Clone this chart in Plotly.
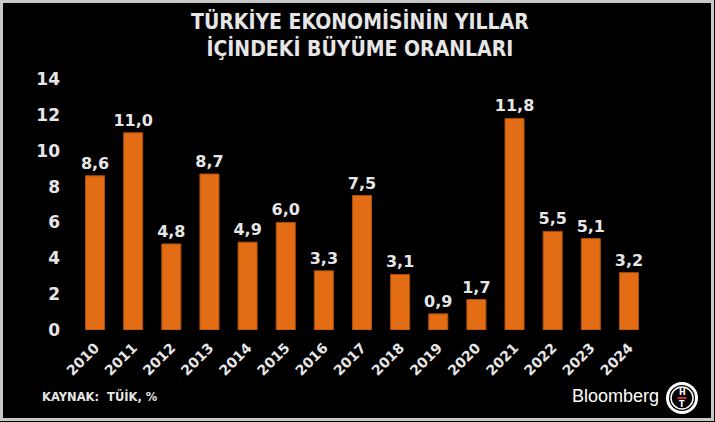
import plotly.graph_objects as go

years = ["2010", "2011", "2012", "2013", "2014", "2015", "2016", "2017",
         "2018", "2019", "2020", "2021", "2022", "2023", "2024"]
growth = [8.6, 11.0, 4.8, 8.7, 4.9, 6.0, 3.3, 7.5, 3.1, 0.9, 1.7, 11.8, 5.5, 5.1, 3.2]
y_ticks = [0, 2, 4, 6, 8, 10, 12, 14]

title_lines = ["TÜRKİYE EKONOMİSİNİN YILLAR", "İÇİNDEKİ BÜYÜME ORANLARI"]
source_text = "KAYNAK:  TÜİK, %"
brand_text = "Bloomberg"

W, H = 715, 422
ML, MR, MT, MB = 76, 67, 79, 92
PW, PH = W - ML - MR, H - MT - MB


def px(x):
    return (x - ML) / PW


def py(y):
    return (H - MB - y) / PH


TXT = "#E6E6E6"
fig = go.Figure()
fig.add_trace(go.Bar(
    x=years, y=growth,
    marker=dict(color="#E36D14", line=dict(color="#A94F0C", width=1)),
    texttemplate="%{y:.1f}", textposition="outside", cliponaxis=False,
    constraintext="none", hoverinfo="skip",
    textfont=dict(family="DejaVu Sans", size=16, color=TXT, weight="bold"),
))

shapes = [
    dict(type="rect", xref="paper", yref="paper", x0=px(1.5), x1=px(W - 2.5),
         y0=py(1.5), y1=py(H - 2.5), line=dict(color="#C8C8C8", width=3),
         fillcolor="rgba(0,0,0,0)", layer="above"),
    dict(type="circle", xref="paper", yref="paper", x0=px(666), x1=px(698),
         y0=py(382), y1=py(414), fillcolor="white", line=dict(width=0)),
    dict(type="circle", xref="paper", yref="paper", x0=px(669), x1=px(695),
         y0=py(385), y1=py(411), fillcolor="black", line=dict(width=0)),
    dict(type="circle", xref="paper", yref="paper", x0=px(671), x1=px(693),
         y0=py(387), y1=py(409), fillcolor="black", line=dict(color="white", width=1.5)),
    dict(type="line", xref="paper", yref="paper", x0=px(677.5), x1=px(686.5),
         y0=py(398), y1=py(398), line=dict(color="#E0242E", width=2)),
]

annotations = [
    dict(text="<br>".join(title_lines), xref="paper", yref="paper",
         x=px(360), y=py(35), xanchor="center", yanchor="middle", showarrow=False,
         font=dict(family="DejaVu Sans Condensed", size=21, color=TXT, weight="bold")),
    dict(text=source_text, xref="paper", yref="paper", x=px(40), y=py(396),
         xanchor="left", yanchor="middle", showarrow=False,
         font=dict(family="DejaVu Sans", size=11.5, color=TXT, weight="bold")),
    dict(text=brand_text, xref="paper", yref="paper", x=px(661), y=py(396),
         xanchor="right", yanchor="middle", showarrow=False,
         font=dict(family="Liberation Sans", size=18, color="white")),
    dict(text="H", xref="paper", yref="paper", x=px(682), y=py(392),
         xanchor="center", yanchor="middle", showarrow=False,
         font=dict(family="DejaVu Sans", size=8, color="white", weight="bold")),
    dict(text="T", xref="paper", yref="paper", x=px(682), y=py(404),
         xanchor="center", yanchor="middle", showarrow=False,
         font=dict(family="DejaVu Sans", size=8, color="white", weight="bold")),
]

fig.update_layout(
    width=W, height=H,
    margin=dict(l=ML, r=MR, t=MT, b=MB),
    paper_bgcolor="black", plot_bgcolor="black",
    separators=",.",
    bargap=0.5,
    showlegend=False,
    hovermode=False,
    shapes=shapes,
    annotations=annotations,
    xaxis=dict(showgrid=False, showline=False, zeroline=False, ticks="",
               tickangle=-45, ticklabelstandoff=6,
               tickfont=dict(family="DejaVu Sans", size=14, color=TXT, weight="bold")),
    yaxis=dict(range=[0, 14], tickvals=y_ticks, showgrid=False, showline=False,
               zeroline=False, ticks="", ticklabelstandoff=15,
               tickfont=dict(family="DejaVu Sans", size=17, color=TXT, weight="bold")),
)

fig.write_html("out.html", config={"displayModeBar": False},
               post_script="document.body.style.margin='0';")
